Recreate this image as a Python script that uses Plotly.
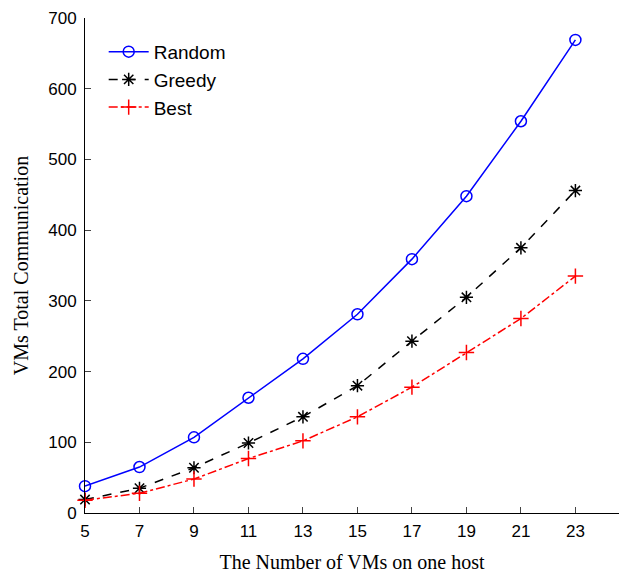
import plotly.graph_objects as go

vms = [5, 7, 9, 11, 13, 15, 17, 19, 21, 23]
random_vals = [38, 65, 107, 163, 218, 281, 359, 448, 554, 669]
greedy_vals = [19, 35, 64, 99, 136, 180, 243, 305, 375, 456]
best_vals = [18, 28, 48, 77, 102, 136, 178, 227, 275, 335]

x_ticks = [5, 7, 9, 11, 13, 15, 17, 19, 21, 23]
y_ticks = [0, 100, 200, 300, 400, 500, 600, 700]

fig = go.Figure()
fig.add_trace(go.Scatter(
    x=vms, y=random_vals, name="Random", mode="lines+markers",
    line=dict(color="#0000ff", width=1.5),
    marker=dict(symbol="circle-open", size=11, color="#0000ff", line=dict(width=1.5)),
    cliponaxis=False))
fig.add_trace(go.Scatter(
    x=vms, y=greedy_vals, name="Greedy", mode="lines+markers",
    line=dict(color="#000000", width=1.5, dash="dash"),
    marker=dict(symbol="asterisk-open", size=11, color="#000000", line=dict(width=1.5)),
    cliponaxis=False))
fig.add_trace(go.Scatter(
    x=vms, y=best_vals, name="Best", mode="lines+markers",
    line=dict(color="#ff0000", width=1.5, dash="dashdot"),
    marker=dict(symbol="cross-thin-open", size=11, color="#ff0000", line=dict(width=1.5)),
    cliponaxis=False))

fig.update_layout(
    width=619, height=573,
    margin=dict(l=85, r=0, t=18, b=60),
    paper_bgcolor="white", plot_bgcolor="white",
    font=dict(family="Liberation Sans, Arial, sans-serif", size=17, color="black"),
    legend=dict(x=0.035, y=0.97, xanchor="left", yanchor="top",
                bgcolor="rgba(0,0,0,0)", font=dict(size=19,
                family="Liberation Sans, Arial, sans-serif"),
                itemwidth=40, tracegroupgap=0),
    showlegend=True,
)
fig.update_xaxes(
    range=[5, 24.6], tickvals=x_ticks, ticks="inside", ticklen=6,
    showline=True, linecolor="black", linewidth=1, showgrid=False, zeroline=False,
    ticklabelstandoff=3, automargin=False,
    title=dict(text="The Number of VMs on one host",
               font=dict(family="Liberation Serif, DejaVu Serif, serif", size=20), standoff=20),
    tickfont=dict(size=17))
fig.update_yaxes(
    range=[0, 700], tickvals=y_ticks, ticks="inside", ticklen=6,
    showline=True, linecolor="black", linewidth=1, showgrid=False, zeroline=False,
    ticklabelstandoff=4, automargin=False,
    title=dict(text="VMs Total Communication",
               font=dict(family="Liberation Serif, DejaVu Serif, serif", size=20), standoff=14),
    tickfont=dict(size=17))

fig.write_html("out.html")
